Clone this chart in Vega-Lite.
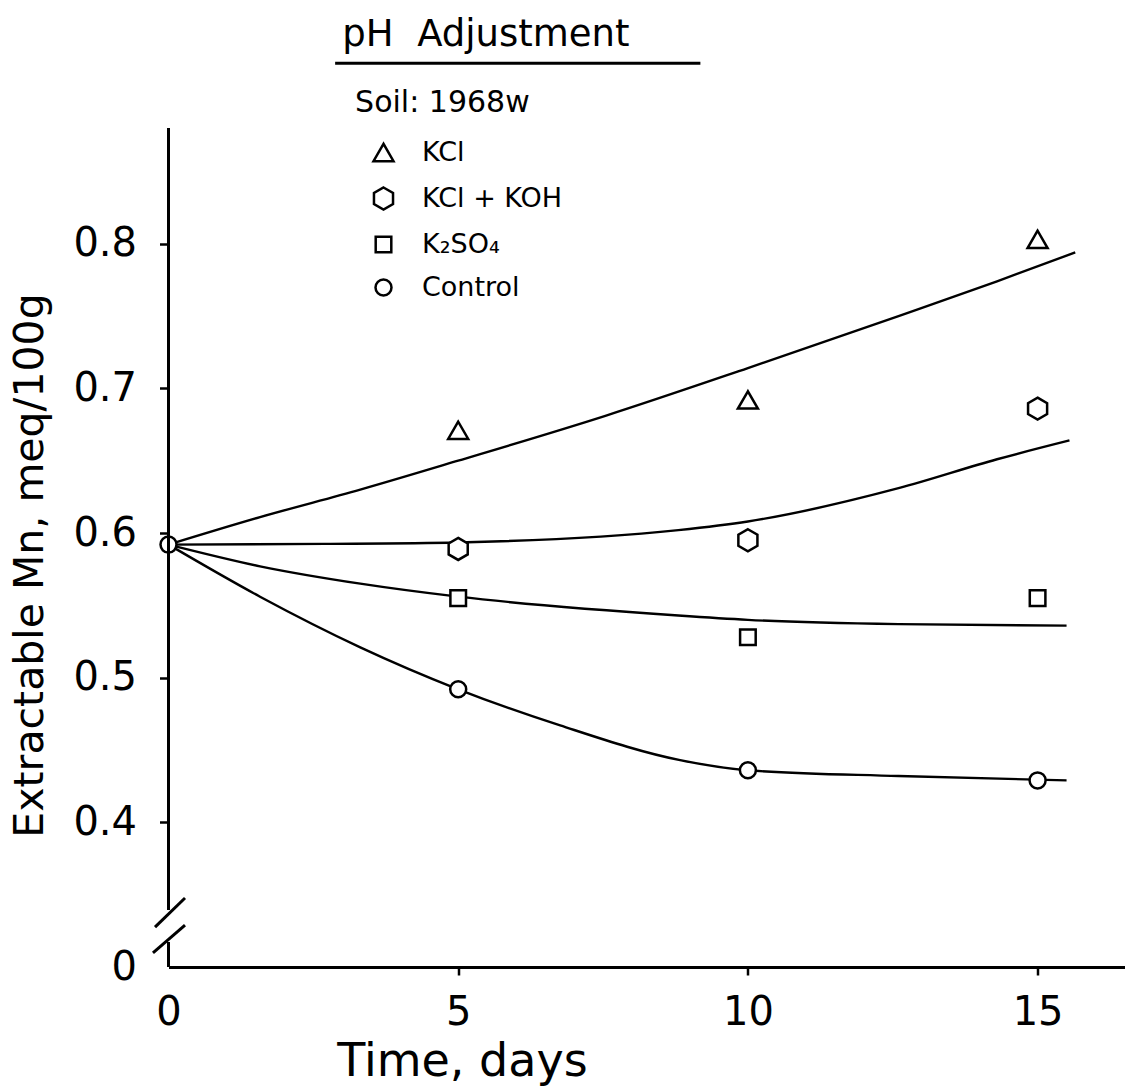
{
  "$schema": "https://vega.github.io/schema/vega-lite/v6.json",
  "width": 956,
  "height": 839,
  "autosize": {"type": "none"},
  "padding": {"left": 168.5, "top": 128, "right": 0, "bottom": 123},
  "background": "white",
  "config": {
    "view": {"stroke": null},
    "font": "DejaVu Sans",
    "axis": {"labelFont": "DejaVu Sans", "titleFont": "DejaVu Sans", "labelColor": "black", "titleColor": "black", "grid": false}
  },
  "datasets": {
    "points": [
      {"series": "KCl", "day": 5, "mn": 0.671},
      {"series": "KCl", "day": 10, "mn": 0.692},
      {"series": "KCl", "day": 15, "mn": 0.803},
      {"series": "KCl + KOH", "day": 5, "mn": 0.589},
      {"series": "KCl + KOH", "day": 10, "mn": 0.595},
      {"series": "KCl + KOH", "day": 15, "mn": 0.686},
      {"series": "K₂SO₄", "day": 5, "mn": 0.555},
      {"series": "K₂SO₄", "day": 10, "mn": 0.528},
      {"series": "K₂SO₄", "day": 15, "mn": 0.555},
      {"series": "Control", "day": 0, "mn": 0.592},
      {"series": "Control", "day": 5, "mn": 0.492},
      {"series": "Control", "day": 10, "mn": 0.436},
      {"series": "Control", "day": 15, "mn": 0.429}
    ],
    "curves": [
      {"series": "KCl", "day": 0, "mn": 0.592},
      {"series": "KCl", "day": 1.58, "mn": 0.611},
      {"series": "KCl", "day": 3.31, "mn": 0.630},
      {"series": "KCl", "day": 5, "mn": 0.650},
      {"series": "KCl", "day": 7.54, "mn": 0.681},
      {"series": "KCl", "day": 10, "mn": 0.714},
      {"series": "KCl", "day": 12.6, "mn": 0.750},
      {"series": "KCl", "day": 14.3, "mn": 0.774},
      {"series": "KCl", "day": 15.65, "mn": 0.794},
      {"series": "KCl + KOH", "day": 0, "mn": 0.592},
      {"series": "KCl + KOH", "day": 2.7, "mn": 0.5925},
      {"series": "KCl + KOH", "day": 5, "mn": 0.5935},
      {"series": "KCl + KOH", "day": 8.8, "mn": 0.602},
      {"series": "KCl + KOH", "day": 10, "mn": 0.608},
      {"series": "KCl + KOH", "day": 12.6, "mn": 0.631},
      {"series": "KCl + KOH", "day": 14.3, "mn": 0.651},
      {"series": "KCl + KOH", "day": 15.55, "mn": 0.664},
      {"series": "K₂SO₄", "day": 0, "mn": 0.592},
      {"series": "K₂SO₄", "day": 1.58, "mn": 0.577},
      {"series": "K₂SO₄", "day": 3.31, "mn": 0.565},
      {"series": "K₂SO₄", "day": 5, "mn": 0.556},
      {"series": "K₂SO₄", "day": 8.8, "mn": 0.543},
      {"series": "K₂SO₄", "day": 10, "mn": 0.540},
      {"series": "K₂SO₄", "day": 12.6, "mn": 0.537},
      {"series": "K₂SO₄", "day": 15.5, "mn": 0.536},
      {"series": "Control", "day": 0, "mn": 0.592},
      {"series": "Control", "day": 1.58, "mn": 0.556},
      {"series": "Control", "day": 3.31, "mn": 0.521},
      {"series": "Control", "day": 5, "mn": 0.492},
      {"series": "Control", "day": 6.76, "mn": 0.467},
      {"series": "Control", "day": 8.83, "mn": 0.443},
      {"series": "Control", "day": 10, "mn": 0.436},
      {"series": "Control", "day": 12.6, "mn": 0.432},
      {"series": "Control", "day": 15.5, "mn": 0.429}
    ]
  },
  "layer": [
    {
      "data": {"name": "curves"},
      "mark": {"type": "line", "color": "black", "strokeWidth": 2.4, "interpolate": "monotone"},
      "encoding": {
        "x": {
          "field": "day", "type": "quantitative",
          "scale": {"domain": [0, 16.5], "nice": false, "zero": false},
          "axis": {
            "values": [0, 5, 10, 15],
            "format": "d",
            "domain": true, "domainColor": "black", "domainWidth": 3,
            "ticks": true, "tickColor": "black", "tickWidth": 2.5, "tickSize": 8,
            "tickOpacity": {"condition": {"test": "datum.value === 0", "value": 0}, "value": 1},
            "labelFontSize": 40, "labelPadding": 17, "labelFlush": false,
            "title": "Time, days", "titleFontSize": 46, "titleFontWeight": "normal",
            "titleX": 293.5, "titleY": 108, "titleAlign": "center", "titleBaseline": "alphabetic"
          }
        },
        "y": {
          "field": "mn", "type": "quantitative",
          "scale": {"domain": [0.3, 0.88], "nice": false, "zero": false},
          "axis": {
            "values": [0.3, 0.4, 0.5, 0.6, 0.7, 0.8],
            "labelExpr": "datum.value < 0.35 ? '0\u00a0' : format(datum.value, '.1f')",
            "domain": false,
            "ticks": true, "tickColor": "black", "tickWidth": 2.5, "tickSize": 9,
            "tickOpacity": {"condition": {"test": "datum.value < 0.35", "value": 0}, "value": 1},
            "labelFontSize": 40, "labelPadding": 23, "labelFlush": false,
            "title": "Extractable Mn, meq/100g", "titleFontSize": 41, "titleFontWeight": "normal",
            "titleX": -126, "titleY": 437, "titleAngle": -90, "titleAlign": "center", "titleBaseline": "alphabetic"
          }
        },
        "detail": {"field": "series", "type": "nominal"}
      }
    },
    {
      "data": {"name": "points"},
      "transform": [{"filter": "datum.series === 'KCl'"}],
      "mark": {"type": "point", "shape": "triangle-up", "filled": true, "color": "white", "opacity": 1, "size": 400},
      "encoding": {"x": {"field": "day", "type": "quantitative"}, "y": {"field": "mn", "type": "quantitative"}}
    },
    {
      "data": {"name": "points"},
      "transform": [{"filter": "datum.series === 'KCl + KOH'"}],
      "mark": {"type": "point", "shape": "M0,-1.1L0.953,-0.55L0.953,0.55L0,1.1L-0.953,0.55L-0.953,-0.55Z", "filled": true, "color": "white", "opacity": 1, "size": 400},
      "encoding": {"x": {"field": "day", "type": "quantitative"}, "y": {"field": "mn", "type": "quantitative"}}
    },
    {
      "data": {"name": "points"},
      "transform": [{"filter": "datum.series === 'K₂SO₄'"}],
      "mark": {"type": "point", "shape": "M-0.78,-0.78L0.78,-0.78L0.78,0.78L-0.78,0.78Z", "filled": true, "color": "white", "opacity": 1, "size": 400},
      "encoding": {"x": {"field": "day", "type": "quantitative"}, "y": {"field": "mn", "type": "quantitative"}}
    },
    {
      "data": {"name": "points"},
      "transform": [{"filter": "datum.series === 'Control'"}],
      "mark": {"type": "point", "shape": "M0.8,0A0.8,0.8 0 1,1 -0.8,0A0.8,0.8 0 1,1 0.8,0Z", "filled": true, "color": "white", "opacity": 1, "size": 400},
      "encoding": {"x": {"field": "day", "type": "quantitative"}, "y": {"field": "mn", "type": "quantitative"}}
    },
    {
      "data": {"name": "points"},
      "mark": {"type": "point", "filled": false, "color": "black", "strokeWidth": 2.5, "opacity": 1, "size": 400},
      "encoding": {
        "x": {"field": "day", "type": "quantitative", "scale": {"domain": [0, 16.5], "nice": false, "zero": false}},
        "y": {"field": "mn", "type": "quantitative", "scale": {"domain": [0.3, 0.88], "nice": false, "zero": false}},
        "shape": {
          "field": "series", "type": "nominal",
          "scale": {
            "domain": ["KCl", "KCl + KOH", "K₂SO₄", "Control"],
            "range": [
              "triangle-up",
              "M0,-1.1L0.953,-0.55L0.953,0.55L0,1.1L-0.953,0.55L-0.953,-0.55Z",
              "M-0.78,-0.78L0.78,-0.78L0.78,0.78L-0.78,0.78Z",
              "M0.8,0A0.8,0.8 0 1,1 -0.8,0A0.8,0.8 0 1,1 0.8,0Z"
            ]
          },
          "legend": {
            "orient": "none", "legendX": 201.5, "legendY": 11,
            "title": null,
            "labelFontSize": 27, "labelColor": "black", "labelFont": "DejaVu Sans",
            "symbolSize": 400, "symbolStrokeWidth": 2.5, "symbolOpacity": 1,
            "labelOffset": 25, "rowPadding": 15, "padding": 0
          }
        }
      }
    },
    {
      "data": {"values": [{}]},
      "mark": {"type": "rule", "color": "black", "strokeWidth": 3},
      "encoding": {"x": {"datum": 0, "type": "quantitative"}, "y": {"datum": 0.3394, "type": "quantitative"}, "y2": {"datum": 0.88}}
    },
    {
      "data": {"values": [{}]},
      "mark": {"type": "rule", "color": "black", "strokeWidth": 3},
      "encoding": {"x": {"datum": 0, "type": "quantitative"}, "y": {"datum": 0.3, "type": "quantitative"}, "y2": {"datum": 0.3173}}
    },
    {
      "data": {"values": [{}]},
      "mark": {"type": "rule", "color": "black", "strokeWidth": 3},
      "encoding": {"x": {"datum": -0.233, "type": "quantitative"}, "x2": {"datum": 0.285}, "y": {"datum": 0.3276, "type": "quantitative"}, "y2": {"datum": 0.3477}}
    },
    {
      "data": {"values": [{}]},
      "mark": {"type": "rule", "color": "black", "strokeWidth": 3},
      "encoding": {"x": {"datum": -0.268, "type": "quantitative"}, "x2": {"datum": 0.285}, "y": {"datum": 0.3097, "type": "quantitative"}, "y2": {"datum": 0.329}}
    },
    {
      "data": {"values": [{"heading": "pH\u00a0\u00a0Adjustment"}]},
      "mark": {"type": "text", "align": "left", "baseline": "alphabetic", "fontSize": 37, "color": "black", "font": "DejaVu Sans"},
      "encoding": {"x": {"datum": 3.0, "type": "quantitative"}, "y": {"datum": 0.937, "type": "quantitative"}, "text": {"field": "heading"}}
    },
    {
      "data": {"values": [{}]},
      "mark": {"type": "rule", "color": "black", "strokeWidth": 3},
      "encoding": {"x": {"datum": 2.876, "type": "quantitative"}, "x2": {"datum": 9.18}, "y": {"datum": 0.9247, "type": "quantitative"}}
    },
    {
      "data": {"values": [{"soil": "Soil: 1968w"}]},
      "mark": {"type": "text", "align": "left", "baseline": "alphabetic", "fontSize": 30, "color": "black", "font": "DejaVu Sans"},
      "encoding": {"x": {"datum": 3.221, "type": "quantitative"}, "y": {"datum": 0.8909, "type": "quantitative"}, "text": {"field": "soil"}}
    }
  ]
}
